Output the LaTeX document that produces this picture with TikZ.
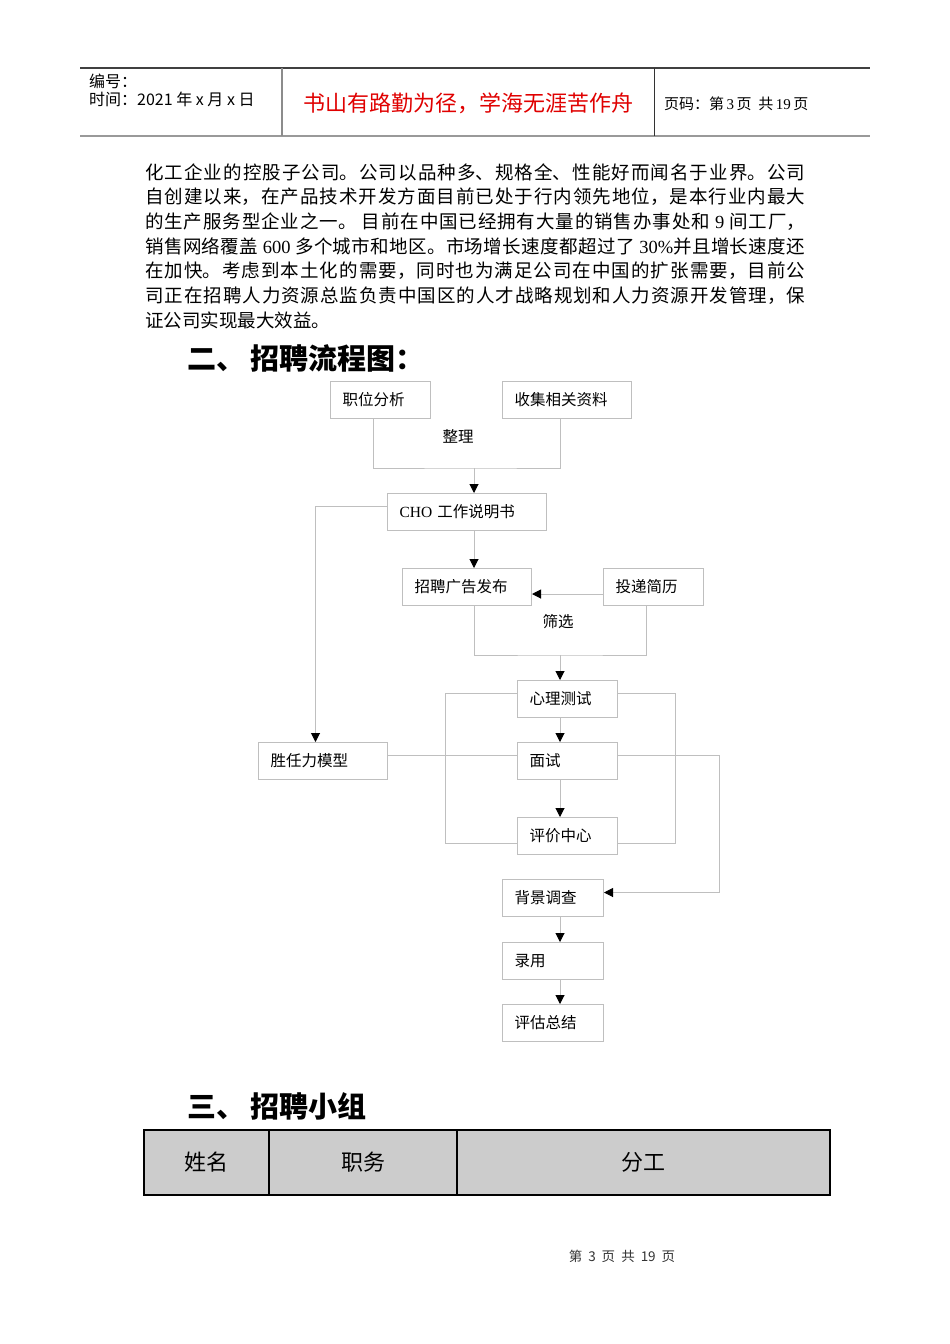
\documentclass[tikz,border=0pt]{standalone}
\usepackage{fontspec}
\setmainfont{Liberation Serif}
\newfontfamily\cjk{Noto Sans CJK SC}
\newfontfamily\lat{Liberation Serif}
\usetikzlibrary{positioning,arrows.meta,calc}
\XeTeXlinebreaklocale "zh"
\XeTeXlinebreakskip=0pt plus 2pt
\definecolor{boxgray}{HTML}{BFBFBF}
\definecolor{tblgray}{HTML}{CCCCCC}
\definecolor{mottored}{HTML}{E00000}

\begin{document}
\begin{tikzpicture}[x=1pt, y=-1pt,
  fbox/.style={draw=boxgray, line width=1pt, anchor=north west, inner xsep=12pt, inner ysep=0pt,
    minimum height=37pt, align=left, font=\cjk\fontsize{15.5}{18}\selectfont},
  lbl/.style={inner sep=0pt, font=\cjk\fontsize{15.5}{18}\selectfont},
  hdtxt/.style={anchor=west, inner sep=0pt, font=\cjk\fontsize{16}{18}\selectfont},
  head/.style={anchor=west, inner sep=0pt, font=\cjk\bfseries\fontsize{29}{31}\selectfont},
  cell/.style={inner sep=0pt, font=\cjk\fontsize{22}{24}\selectfont},
  ln/.style={draw=boxgray, line width=1pt},
  arr/.style={ln, -{Triangle[length=9pt,width=9pt,color=black]}}]
  \fill[white] (0,0) rectangle (950,1344);
  \useasboundingbox (0,0) rectangle (950,1344);
  % page header
  \draw[black!75, line width=1.2pt] (80,68) -- (870,68);
  \draw[black!40, line width=2.5pt] (80,136) -- (870,136);
  \draw[black!45, line width=2pt] (281.5,68) -- (281.5,136);
  \draw[black!80, line width=1pt] (654.5,68) -- (654.5,136);
  \node[hdtxt] (serial) at (89,81) {编号：};
  \node[hdtxt] (date) at (89,99.5) {时间：2021 年 x 月 x 日};
  \node[inner sep=0pt, text=mottored, font=\cjk\fontsize{22}{24}\selectfont] (motto) at (468,103.5)
       {书山有路勤为径，学海无涯苦作舟};
  \node[hdtxt, font=\cjk\fontsize{15}{17}\selectfont] (pageno) at (664,104)
       {页码：第\,{\lat 3}\,页\ \ 共\,{\lat 19}\,页};
  % intro text
  \node[anchor=base west, inner sep=0pt, text width=660pt, align=justify,
        font=\cjk\fontsize{18.5}{24.7}\selectfont] (intro) at (145,179) {%
    化工企业的控股子公司。公司以品种多、规格全、性能好而闻名于业界。公司\linebreak
    自创建以来，在产品技术开发方面目前已处于行内领先地位，是本行业内最大\linebreak
    的生产服务型企业之一。\ 目前在中国已经拥有大量的销售办事处和 {\lat 9} 间工厂，\linebreak
    销售网络覆盖 {\lat 600} 多个城市和地区。市场增长速度都超过了 {\lat 30\%}并且增长速度还\linebreak
    在加快。考虑到本土化的需要，同时也为满足公司在中国的扩张需要，目前公\linebreak
    司正在招聘人力资源总监负责中国区的人才战略规划和人力资源开发管理，保\linebreak
    证公司实现最大效益。};
  \node[head] (secII) at (187,358) {二、\,招聘流程图：};
  % flow chart
  \node[fbox, text width=76pt] (jobana) at (330,381) {职位分析};
  \node[fbox, text width=105pt] (collect) at (502,381) {收集相关资料};
  \node[lbl] (sort) at (458,436) {整理};
  \coordinate (mergeA) at (474,468);
  \node[fbox, text width=135pt] (cho) at (387,493) {{\lat CHO} 工作说明书};
  \node[fbox, text width=105pt] (advert) at (402,568) {招聘广告发布};
  \node[fbox, text width=76pt] (resume) at (603,568) {投递简历};
  \node[lbl] (screen) at (558,622) {筛选};
  \coordinate (mergeB) at (560,655);
  \node[fbox, text width=76pt] (psych) at (517,680) {心理测试};
  \node[fbox, text width=105pt] (model) at (258,742) {胜任力模型};
  \node[fbox, text width=76pt] (interv) at (517,742) {面试};
  \node[fbox, text width=76pt] (assess) at (517,817) {评价中心};
  \node[fbox, text width=77pt] (backg) at (502,879) {背景调查};
  \node[fbox, text width=77pt] (hire) at (502,942) {录用};
  \node[fbox, text width=77pt] (review) at (502,1004) {评估总结};
  \draw[ln] ([xshift=-7pt]jobana.south) |- (mergeA) -| ([xshift=-6.5pt]collect.south);
  \draw[arr] (mergeA) -- (mergeA |- cho.north);
  \draw[arr] (mergeA |- cho.south) -- (mergeA |- advert.north);
  \draw[arr] ([yshift=5.5pt]cho.west) -| ([xshift=-7.5pt]model.north);
  \draw[arr] ([yshift=-7pt]resume.west) -- ([yshift=-7pt]advert.east);
  \draw[ln] (mergeA |- advert.south) |- (mergeB) -| ([xshift=-7pt]resume.south);
  \draw[arr] (mergeB) -- (mergeB |- psych.north);
  \foreach \a/\b in {psych/interv, interv/assess}
    \draw[arr] (mergeB |- \a.south) -- (mergeB |- \b.north);
  \draw[ln] ([yshift=6pt]psych.west) -- ++(-72,0) |- ([yshift=-7pt]assess.west);
  \draw[ln] ([yshift=6pt]psych.east) -- ++(57,0) |- ([yshift=-7pt]assess.east);
  \draw[ln] ([yshift=5.5pt]model.east) -- ([yshift=5.5pt]interv.west);
  \draw[arr] ([yshift=5.5pt]interv.east) -- ++(101,0) |- ([yshift=5.5pt]backg.east);
  \foreach \a/\b in {backg/hire, hire/review}
    \draw[arr] ([xshift=7pt]\a.south) -- ([xshift=7pt]\b.north);
  % team table
  \node[head] (secIII) at (187,1106) {三、\,招聘小组};
  \fill[tblgray] (143.5,1129.5) rectangle (829.5,1194.5);
  \draw[line width=2pt] (143.5,1129.5) rectangle (829.5,1194.5);
  \draw[line width=2pt] (268.5,1129.5) -- (268.5,1194.5) (456.7,1129.5) -- (456.7,1194.5);
  \node[cell] (tname) at (206,1162) {姓名};
  \node[cell] (trole) at (363,1162) {职务};
  \node[cell] (ttask) at (643,1162) {分工};
  % page footer
  \node[inner sep=0pt, text=black!80, font=\cjk\fontsize{13.5}{15}\selectfont] (footer) at (622,1256)
       {第\hspace{6pt}3\hspace{6pt}页\hspace{6pt}共\hspace{6pt}19\hspace{6pt}页};
\end{tikzpicture}
\end{document}
